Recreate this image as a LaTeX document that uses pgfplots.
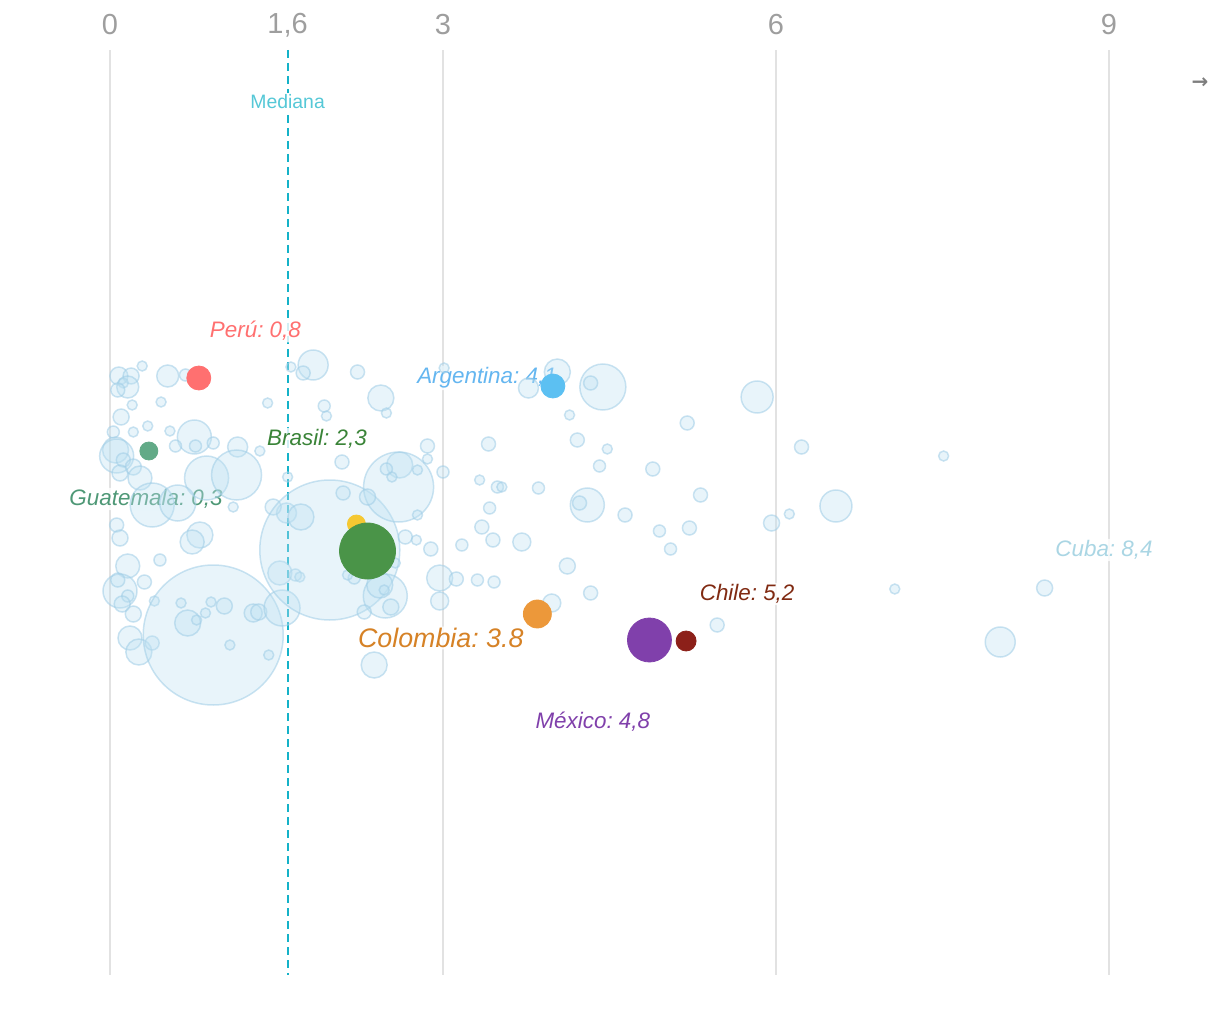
\documentclass[border=0pt]{standalone}
\usepackage{pgfplots}
\usepackage{pgfplotstable}
\pgfplotsset{compat=1.18}
\usepackage{fontspec}
\setmainfont{Liberation Sans}
\newfontfamily\arrowfont{DejaVu Sans}
\frenchspacing

\definecolor{gridc}{RGB}{226,226,226}
\definecolor{tickc}{RGB}{158,158,158}
\definecolor{medc}{RGB}{20,178,200}
\definecolor{medt}{RGB}{85,200,215}
\definecolor{bubf}{RGB}{190,225,242}
\definecolor{bubd}{RGB}{160,205,230}
\definecolor{peru}{RGB}{255,112,112}
\definecolor{guat}{RGB}{98,170,135}
\definecolor{guatt}{RGB}{78,152,118}
\definecolor{bras}{RGB}{74,148,72}
\definecolor{brast}{RGB}{58,132,56}
\definecolor{yell}{RGB}{245,200,50}
\definecolor{arg}{RGB}{92,192,242}
\definecolor{argt}{RGB}{100,182,240}
\definecolor{col}{RGB}{236,152,58}
\definecolor{colt}{RGB}{214,130,38}
\definecolor{mex}{RGB}{128,64,171}
\definecolor{chi}{RGB}{140,32,25}
\definecolor{chit}{RGB}{128,42,18}
\definecolor{cubt}{RGB}{170,214,228}

% x = valor, y = posicion vertical (px), r = radio (px)
\pgfplotstableread{
x y r
0.08 376 9
0.19 376 8
0.29 366 5
0.12 383 5
0.16 387 11
0.07 390 7
0.52 376 11
0.68 375 6
0.46 402 5
0.20 405 5
1.42 403 5
0.10 417 8
0.03 432 6
0.21 432 5
0.34 426 5
0.54 431 5
0.76 437 17
0.59 446 6
0.77 446 6
0.93 443 6
1.15 447 10
1.35 451 5
0.05 450 13
0.06 456 17
0.12 460 7
0.21 467 8
0.09 473 8
0.27 478 12
0.87 478 22
1.14 475 25
1.60 477 5
0.38 505 22
0.61 503 18
1.59 513 10
1.47 507 8
1.11 507 5
0.81 535 13
0.06 525 7
0.09 538 8
0.74 542 12
0.16 566 12
0.45 560 6
0.09 591 17
0.07 580 7
0.31 582 7
0.16 596 6
0.11 604 8
0.21 614 8
0.18 638 12
0.26 652 13
0.38 643 7
0.40 601 5
0.93 635 70
0.64 603 5
0.70 623 13
0.78 620 5
0.91 602 5
0.86 613 5
1.03 606 8
1.29 613 9
1.34 612 8
1.08 645 5
1.43 655 5
1.55 608 18
1.53 573 12
1.67 575 6
1.71 577 5
1.98 550 70
1.83 365 15
1.74 373 7
1.63 367 5
2.23 372 7
2.44 398 13
1.93 406 6
1.95 416 5
2.49 413 5
3.01 368 5
2.86 446 7
3.41 444 7
2.09 462 7
2.61 465 13
2.60 487 35
2.49 469 6
2.54 477 5
2.77 470 5
2.86 459 5
3.00 472 6
3.33 480 5
3.49 487 6
2.10 493 7
2.32 497 8
3.42 508 6
2.77 515 5
1.72 517 13
2.66 537 7
2.76 540 5
2.89 549 7
3.17 545 6
3.35 527 7
3.45 540 7
2.97 578 13
3.12 579 7
3.31 580 6
3.46 582 6
2.97 601 9
2.48 596 22
2.43 585 13
2.47 590 5
2.53 607 8
2.29 612 7
2.57 563 5
2.38 665 13
2.20 578 6
2.14 575 5
4.03 372 13
3.77 388 10
4.44 387 23
4.33 383 7
5.83 397 16
4.14 415 5
5.20 423 7
4.21 440 7
4.48 449 5
6.23 447 7
4.41 466 6
4.89 469 7
3.53 487 5
3.86 488 6
4.30 505 17
4.23 503 7
4.64 515 7
5.32 495 7
6.54 506 16
6.12 514 5
5.96 523 8
4.95 531 6
5.22 528 7
5.05 549 6
3.71 542 9
4.12 566 8
4.33 593 7
3.98 603 9
5.47 625 7
7.07 589 5
7.51 456 5
8.02 642 15
8.42 588 8
}\light

\pgfplotstableread{
x y r
2.22 524 9
}\yellow

\pgfplotsset{
  bubble/.style 2 args={scatter, only marks, mark=*,
    point meta=\thisrow{r},
    scatter/use mapped color={draw=#1, fill=#2},
    visualization depends on={0.5*\thisrow{r} \as \rad},
    scatter/@pre marker code/.append style={/tikz/mark size=\rad}},
}
\tikzset{lab/.style={fill=white, fill opacity=0.8, text opacity=1, inner sep=0.8pt,
    rounded corners=2pt, font=\itshape\fontsize{11.2}{13}\selectfont}}

\begin{document}
\begin{tikzpicture}
\begin{axis}[
  width=610pt, height=505pt, scale only axis,
  xmin=-0.990991, xmax=10, ymin=0, ymax=1010, y dir=reverse,
  axis lines=none, xtick=\empty, ytick=\empty, clip=false]
\path (rel axis cs:0,0) rectangle (rel axis cs:1,1);

% rejilla
\draw[gridc, line width=1pt] (axis cs:0,50) -- (axis cs:0,975);
\draw[gridc, line width=1pt] (axis cs:3,50) -- (axis cs:3,975);
\draw[gridc, line width=1pt] (axis cs:6,50) -- (axis cs:6,975);
\draw[gridc, line width=1pt] (axis cs:9,50) -- (axis cs:9,975);
\tikzset{tk/.style={text=tickc, font=\fontsize{14.5}{16}\selectfont}}
\node[tk] at (axis cs:0,25) {0};
\node[tk] at (axis cs:1.6,25) {1,6};
\node[tk] at (axis cs:3,25) {3};
\node[tk] at (axis cs:6,25) {6};
\node[tk] at (axis cs:9,25) {9};
\node[text=tickc!80!black, font=\arrowfont\bfseries\fontsize{10}{12}\selectfont] at (axis cs:9.82,83) {→};

% burbujas de fondo
\addplot[bubble={bubd}{bubf}, mark options={fill opacity=0.36, draw opacity=0.55, line width=0.75pt}] table[x=x,y=y] {\light};

% mediana
\draw[medc, line width=1pt, dash pattern=on 4pt off 2.5pt] (axis cs:1.6,50) -- (axis cs:1.6,975);
\node[fill=white, inner sep=0.8pt, text=medt, font=\fontsize{9.7}{11}\selectfont] at (axis cs:1.6,102) {Mediana};

% etiquetas
\node[lab, text=peru] at (axis cs:1.31,331) {Perú: 0,8};
\node[lab, text=guatt] at (axis cs:0.325,499) {Guatemala: 0,3};
\node[lab, text=brast] at (axis cs:1.865,439) {Brasil: 2,3};
\node[lab, text=argt, anchor=west] at (axis cs:2.75,378) {Argentina: 4,1};
\node[lab, text=colt, font=\itshape\fontsize{13.4}{15}\selectfont] at (axis cs:2.98,638) {Colombia: 3.8};
\node[lab, text=mex] at (axis cs:4.35,722) {México: 4,8};
\node[lab, text=chit] at (axis cs:5.74,594) {Chile: 5,2};
\node[lab, text=cubt] at (axis cs:8.955,550) {Cuba: 8,4};

% paises destacados
\addplot[bubble={yell}{yell}] table[x=x,y=y] {\yellow};
\addplot[bubble={bras}{bras}] table {x y r
2.32 551 28
};
\addplot[bubble={peru}{peru}] table {x y r
0.80 378 12
};
\addplot[bubble={guat}{guat}] table {x y r
0.35 451 9
};
\addplot[bubble={arg}{arg}] table {x y r
3.99 386 12
};
\addplot[bubble={col}{col}] table {x y r
3.85 614 14
};
\addplot[bubble={mex}{mex}] table {x y r
4.86 640 22
};
\addplot[bubble={chi}{chi}] table {x y r
5.19 641 10
};
\end{axis}
\end{tikzpicture}
\end{document}
